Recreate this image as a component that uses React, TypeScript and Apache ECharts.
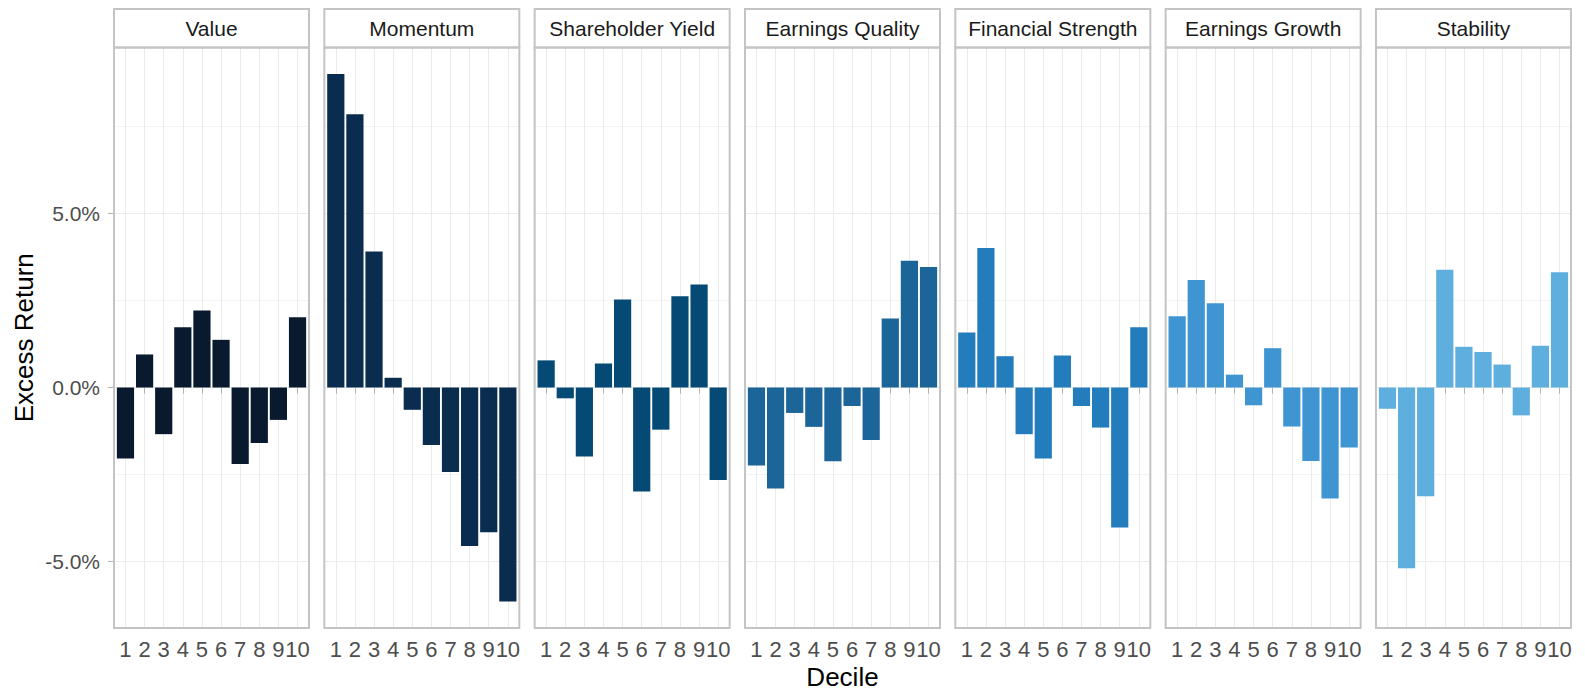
import React, { useEffect, useRef } from "react";
import * as echarts from "echarts";

const FACTORS = [
  "Value",
  "Momentum",
  "Shareholder Yield",
  "Earnings Quality",
  "Financial Strength",
  "Earnings Growth",
  "Stability",
];
const DECILES = [1, 2, 3, 4, 5, 6, 7, 8, 9, 10];

const valueReturns = [-2.04, 0.95, -1.34, 1.73, 2.21, 1.37, -2.2, -1.59, -0.93, 2.02];
const momentumReturns = [9.01, 7.85, 3.91, 0.28, -0.64, -1.65, -2.43, -4.55, -4.16, -6.15];
const shareholderYieldReturns = [0.78, -0.31, -1.98, 0.69, 2.53, -2.99, -1.21, 2.62, 2.96, -2.66];
const earningsQualityReturns = [-2.24, -2.9, -0.73, -1.13, -2.12, -0.53, -1.51, 1.98, 3.64, 3.46];
const financialStrengthReturns = [1.58, 4.01, 0.9, -1.34, -2.04, 0.92, -0.53, -1.15, -4.02, 1.73];
const earningsGrowthReturns = [2.05, 3.09, 2.42, 0.37, -0.51, 1.13, -1.12, -2.11, -3.19, -1.72];
const stabilityReturns = [-0.61, -5.19, -3.12, 3.38, 1.17, 1.02, 0.66, -0.8, 1.2, 3.31];

const SERIES = [
  valueReturns,
  momentumReturns,
  shareholderYieldReturns,
  earningsQualityReturns,
  financialStrengthReturns,
  earningsGrowthReturns,
  stabilityReturns,
];

const COLORS = ["#0a1a2e", "#0a2d4f", "#044a75", "#1c6598", "#237cbc", "#3f95d2", "#5eaede"];

const Y_MAJOR = [-5, 0, 5];
const Y_MINOR = [-2.5, 2.5, 7.5];

const FONT = "'Liberation Sans', Arial, Helvetica, sans-serif";

export default function App() {
  const ref = useRef<HTMLDivElement>(null);

  useEffect(() => {
    if (!ref.current) return;
    const chart = echarts.init(ref.current, undefined, { renderer: "svg" });

    const all = SERIES.flat();
    const dMax = Math.max(0, ...all);
    const dMin = Math.min(0, ...all);
    const range = dMax - dMin;
    const yMin = dMin - 0.05 * range;
    const yMax = dMax + 0.05 * range;

    const left0 = 114;
    const step = 210.33;
    const panelW = 195;
    const top = 47.5;
    const bottom = 628;
    const panelH = bottom - top;
    const stripTop = 9;
    const unit = panelW / 10.2;

    const grid: any[] = [];
    const xAxis: any[] = [];
    const yAxis: any[] = [];
    const series: any[] = [];
    const graphic: any[] = [];

    FACTORS.forEach((name, i) => {
      const left = left0 + i * step;
      grid.push({ left, top, width: panelW, height: panelH });
      xAxis.push({
        type: "value",
        gridIndex: i,
        min: 0.4,
        max: 10.6,
        axisLine: { show: false },
        axisTick: {
          show: true,
          length: 6,
          lineStyle: { color: "#b3b3b3", width: 1 },
          customValues: DECILES,
        },
        axisLabel: {
          customValues: DECILES,
          fontSize: 22,
          color: "#4d4d4d",
          margin: 10,
          fontFamily: FONT,
        },
        splitLine: { show: true, lineStyle: { color: "#ebebeb", width: 1 } },
      });
      yAxis.push({
        type: "value",
        gridIndex: i,
        min: yMin,
        max: yMax,
        position: "left",
        axisLine: { show: false },
        axisTick: {
          show: i === 0,
          length: 6,
          lineStyle: { color: "#b3b3b3", width: 1 },
          customValues: Y_MAJOR,
        },
        axisLabel: {
          show: i === 0,
          customValues: Y_MAJOR,
          fontSize: 21,
          color: "#4d4d4d",
          margin: 14,
          fontFamily: FONT,
          formatter: (v: number) => v.toFixed(1) + "%",
        },
        splitLine: { show: true, lineStyle: { color: "#ebebeb", width: 1 } },
      });
      yAxis.push({
        type: "value",
        gridIndex: i,
        min: yMin,
        max: yMax,
        position: "left",
        axisLine: { show: false },
        axisTick: { show: false, customValues: Y_MINOR },
        axisLabel: { show: false, customValues: Y_MINOR },
        splitLine: { show: true, lineStyle: { color: "#f3f3f3", width: 1 } },
      });
      series.push({
        type: "bar",
        name,
        xAxisIndex: i,
        yAxisIndex: 2 * i,
        barWidth: unit * 0.9,
        itemStyle: { color: COLORS[i] },
        data: SERIES[i].map((v, j) => [DECILES[j], v]),
      });

      graphic.push({
        type: "rect",
        shape: { x: left, y: stripTop, width: panelW, height: top - stripTop },
        style: { fill: "#ffffff", stroke: "#c4c4c4", lineWidth: 2 },
        z: 100,
      });
      graphic.push({
        type: "text",
        x: left + panelW / 2,
        y: (stripTop + top) / 2,
        style: {
          text: name,
          fontSize: 21,
          fontFamily: FONT,
          fill: "#1a1a1a",
          align: "center",
          verticalAlign: "middle",
        },
        z: 101,
      });
      graphic.push({
        type: "rect",
        shape: { x: left, y: top, width: panelW, height: panelH },
        style: { fill: "none", stroke: "#c4c4c4", lineWidth: 2 },
        z: 100,
      });
    });

    const lastRight = left0 + 6 * step + panelW;
    graphic.push({
      type: "text",
      x: 24,
      y: (top + bottom) / 2,
      rotation: Math.PI / 2,
      style: {
        text: "Excess Return",
        fontSize: 26,
        fontFamily: FONT,
        fill: "#000000",
        align: "center",
        verticalAlign: "middle",
      },
    });
    graphic.push({
      type: "text",
      x: (left0 + lastRight) / 2,
      y: 677,
      style: {
        text: "Decile",
        fontSize: 26,
        fontFamily: FONT,
        fill: "#000000",
        align: "center",
        verticalAlign: "middle",
      },
    });

    chart.setOption({
      animation: false,
      backgroundColor: "#ffffff",
      textStyle: { fontFamily: FONT },
      grid,
      xAxis,
      yAxis,
      series,
      graphic,
    });

    return () => chart.dispose();
  }, []);

  return (
    <div
      ref={ref}
      style={{ position: "absolute", left: 0, top: 0, width: 1585, height: 692 }}
    />
  );
}
